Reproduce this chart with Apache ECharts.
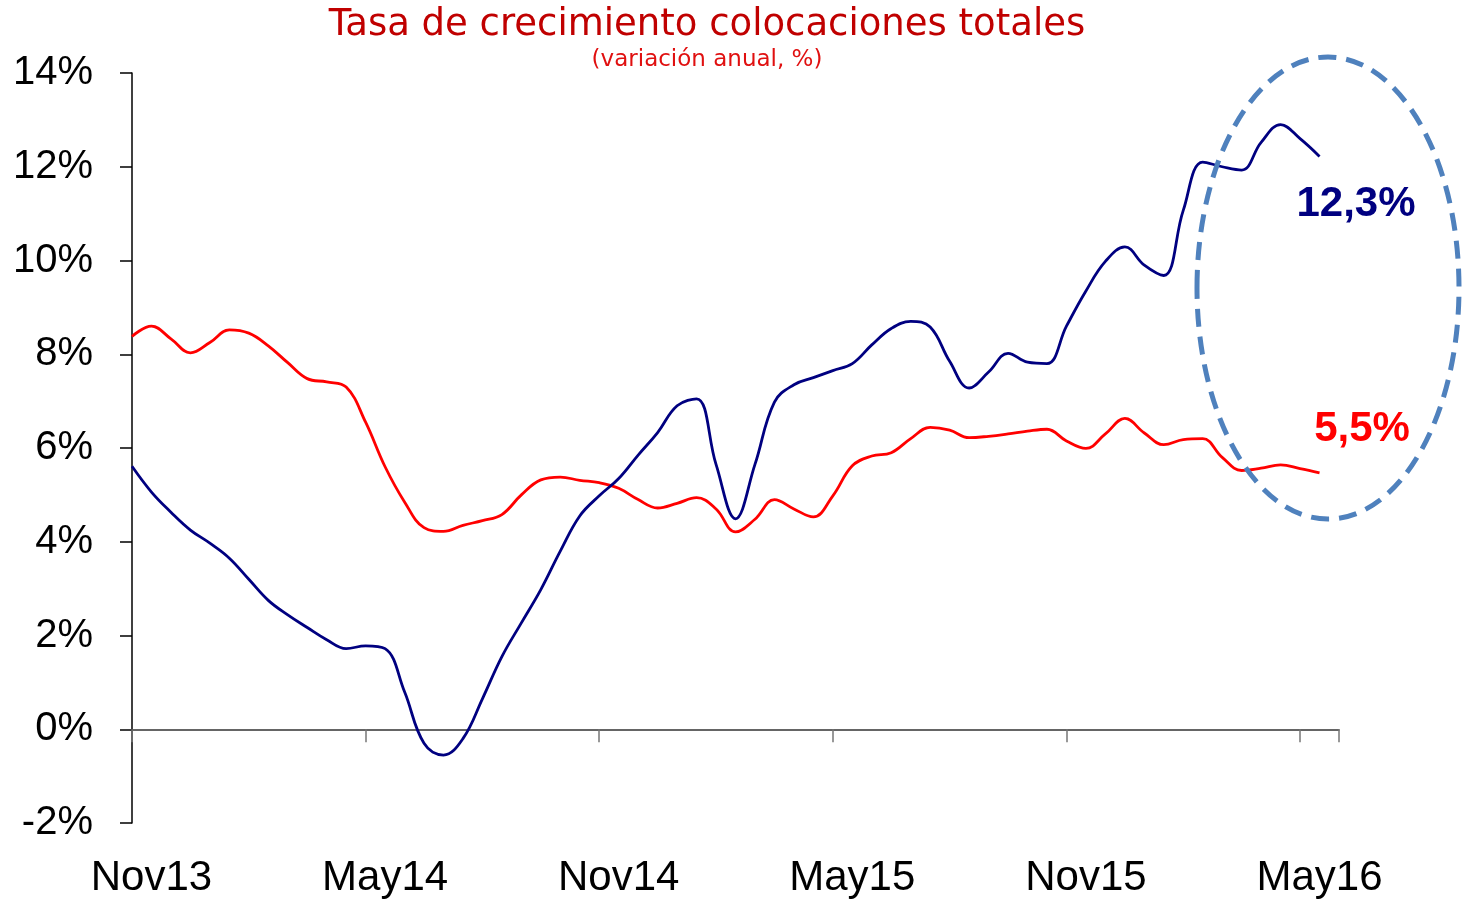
<!DOCTYPE html>
<html>
<head>
<meta charset="utf-8">
<script src="https://cdn.jsdelivr.net/npm/echarts@6/dist/echarts.min.js"></script>
<style>
  html, body { margin: 0; padding: 0; background: #fff; }
  #chart { width: 1462px; height: 899px; }
</style>
</head>
<body>
<div id="chart"></div>
<script>
// meses del eje (Nov13 .. May16)
const meses = [
  'Nov13', 'Dic13', 'Ene14', 'Feb14', 'Mar14', 'Abr14', 'May14', 'Jun14', 'Jul14', 'Ago14', 'Sep14', 'Oct14',
  'Nov14', 'Dic14', 'Ene15', 'Feb15', 'Mar15', 'Abr15', 'May15', 'Jun15', 'Jul15', 'Ago15', 'Sep15', 'Oct15',
  'Nov15', 'Dic15', 'Ene16', 'Feb16', 'Mar16', 'Abr16', 'May16'
]

// valores quincenales (variación anual, %)
const serieAzul = [
  5.61, 5.06, 4.63, 4.25, 3.97, 3.65, 3.20, 2.75, 2.44, 2.17, 1.91, 1.72,
  1.78, 1.72, 0.80, -0.30, -0.55, -0.20, 0.65, 1.55, 2.27, 2.98, 3.80, 4.55,
  4.98, 5.35, 5.85, 6.33, 6.90, 7.05, 5.65, 4.49, 5.65, 6.98, 7.35, 7.50,
  7.65, 7.80, 8.20, 8.55, 8.70, 8.58, 7.85, 7.28, 7.62, 8.02, 7.83, 7.80,
  8.60, 9.35, 9.98, 10.29, 9.90, 9.68, 11.07, 12.10, 12.00, 11.93, 12.52, 12.90,
  12.60, 12.22
]

const serieRoja = [
  8.38, 8.60, 8.33, 8.03, 8.25, 8.52, 8.45, 8.18, 7.82, 7.48, 7.41, 7.30,
  6.55, 5.60, 4.85, 4.30, 4.22, 4.35, 4.45, 4.58, 5.00, 5.32, 5.38, 5.31,
  5.26, 5.14, 4.90, 4.72, 4.82, 4.94, 4.70, 4.21, 4.48, 4.90, 4.70, 4.53,
  4.98, 5.62, 5.83, 5.90, 6.20, 6.44, 6.38, 6.22, 6.25, 6.30, 6.36, 6.40,
  6.15, 5.99, 6.30, 6.63, 6.32, 6.07, 6.18, 6.20, 5.80, 5.52, 5.57, 5.64,
  5.56, 5.47
]

const ultimoAzul = '12,3%'
const ultimoRoja = '5,5%'

const fontBase = '"Liberation Sans", Arial, sans-serif'

// cada punto es media quincena: x en meses desde Nov13
const toPairs = arr => arr.map((v, i) => [i * 0.5, v])

const chart = echarts.init(document.getElementById('chart'))

chart.setOption({
  animation: false,
  grid: {
    left: 132,
    right: 123,
    top: 73,
    bottom: 76,
    containLabel: false
  },
  xAxis: [{
    // solo etiquetas de meses, abajo
    type: 'category',
    data: meses,
    boundaryGap: true,
    position: 'bottom',
    axisLine: { show: false, onZero: false },
    axisTick: { show: false },
    axisLabel: {
      interval: 5,
      margin: 34,
      fontSize: 42,
      color: '#000',
      fontFamily: fontBase
    },
    splitLine: { show: false }
  }, {
    // eje de valores (meses) con la línea en 0%
    type: 'value',
    min: 0,
    max: 31,
    interval: 6,
    position: 'bottom',
    axisLine: { onZero: true, lineStyle: { color: '#333', width: 1.5 } },
    axisTick: { show: true, length: 13, lineStyle: { color: '#777', width: 1.5 } },
    axisLabel: { show: false },
    splitLine: { show: false }
  }],
  yAxis: {
    type: 'value',
    min: -2,
    max: 14,
    interval: 2,
    axisLine: { show: true, onZero: false, lineStyle: { color: '#000', width: 1.5 } },
    axisTick: { show: true, length: 12, lineStyle: { color: '#000', width: 1.5 } },
    axisLabel: {
      formatter: '{value}%',
      margin: 39,
      fontSize: 40,
      color: '#000',
      fontFamily: fontBase
    },
    splitLine: { show: false }
  },
  series: [{
    name: 'Roja',
    type: 'line',
    xAxisIndex: 1,
    data: toPairs(serieRoja),
    smooth: 0.4,
    symbol: 'none',
    lineStyle: { color: '#ff0000', width: 2.8 },
    z: 3
  }, {
    name: 'Azul',
    type: 'line',
    xAxisIndex: 1,
    data: toPairs(serieAzul),
    smooth: 0.4,
    symbol: 'none',
    lineStyle: { color: '#000080', width: 2.8 },
    z: 4
  }],
  graphic: [{
    type: 'text',
    x: 707,
    y: 7,
    style: {
      text: 'Tasa de crecimiento colocaciones totales',
      font: '37px "DejaVu Sans", sans-serif',
      fill: '#c00000',
      textAlign: 'center',
      textVerticalAlign: 'top'
    }
  }, {
    type: 'text',
    x: 707,
    y: 49,
    style: {
      text: '(variación anual, %)',
      font: '23px "DejaVu Sans", sans-serif',
      fill: '#e01010',
      textAlign: 'center',
      textVerticalAlign: 'top'
    }
  }, {
    type: 'ellipse',
    shape: { cx: 1328, cy: 288, rx: 131, ry: 231 },
    style: {
      fill: null,
      stroke: '#4f81bd',
      lineWidth: 5,
      lineDash: [18, 10]
    },
    z: 10
  }, {
    type: 'text',
    x: 1356,
    y: 204,
    style: {
      text: ultimoAzul,
      font: 'bold 42px "Liberation Sans", Arial, sans-serif',
      fill: '#000080',
      textAlign: 'center',
      textVerticalAlign: 'middle'
    },
    z: 11
  }, {
    type: 'text',
    x: 1362,
    y: 429,
    style: {
      text: ultimoRoja,
      font: 'bold 42px "Liberation Sans", Arial, sans-serif',
      fill: '#ff0000',
      textAlign: 'center',
      textVerticalAlign: 'middle'
    },
    z: 11
  }]
})
</script>
</body>
</html>
